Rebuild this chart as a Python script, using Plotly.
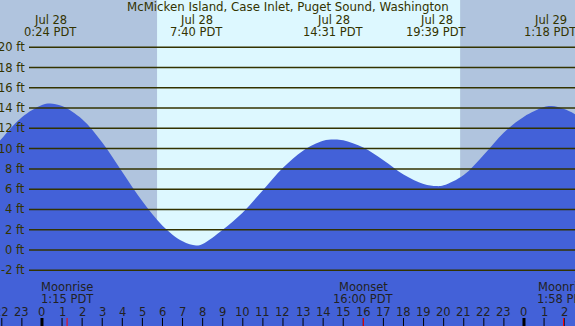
import plotly.graph_objects as go

# Tide heights (ft), hours relative to Jul 28 00:00 PDT
hours = [-2.09, -2, -1, 0, 0.4, 1, 2, 3, 4, 5, 6, 7, 7.67, 8, 9, 10, 11, 12, 13, 14, 14.52,
         15, 16, 17, 18, 19, 19.65, 20, 21, 22, 23, 24, 25, 25.38, 26, 26.54]
heights = [10.8, 11.0, 13.1, 14.3, 14.46, 14.2, 12.9, 10.6, 7.7, 4.8, 2.4, 0.85, 0.45, 0.6, 2.0, 3.7, 5.9, 8.1, 9.8, 10.78, 10.9,
           10.82, 10.1, 8.85, 7.45, 6.5, 6.3, 6.38, 7.4, 9.4, 11.6, 13.15, 14.1, 14.2, 13.9, 13.4]

extreme_hours = [0.4, 7.67, 14.52, 19.65, 25.3]
extreme_dates = ["Jul 28", "Jul 28", "Jul 28", "Jul 28", "Jul 29"]
extreme_times = ["0:24 PDT", "7:40 PDT", "14:31 PDT", "19:39 PDT", "1:18 PDT"]

moon_hours = [1.25, 16.0, 25.97]
moon_events = ["Moonrise", "Moonset", "Moonrise"]
moon_times = ["1:15 PDT", "16:00 PDT", "1:58 PDT"]

sunrise_h = 5.73
sunset_h = 20.82

ft_ticks = list(range(-2, 21, 2))
hour_ticks = list(range(-2, 27))
hour_labels = [str(h % 24) for h in hour_ticks]

title = "McMicken Island, Case Inlet, Puget Sound, Washington"

X0, X1 = -2.09, 26.54
Y0, Y1 = -7.5, 24.66

NIGHT = "#B0C4DE"
DAY = "#DDF8FF"
BLUE = "#4361D8"
INK = "#333300"
FONT = "DejaVu Sans"
FS = 11.5

fig = go.Figure()
fig.add_trace(go.Scatter(x=[X0 - 1, X1 + 1], y=[-20, -20], mode="lines",
                         line=dict(width=0), hoverinfo="skip", showlegend=False))
fig.add_trace(go.Scatter(x=hours, y=heights, mode="lines", line=dict(width=0, color=BLUE, shape="spline"),
                         fill="tonexty", fillcolor=BLUE, hoverinfo="skip", showlegend=False))

shapes = []
shapes.append(dict(type="rect", xref="x", yref="paper", x0=X0 - 1, x1=sunrise_h, y0=0, y1=1,
                   fillcolor=NIGHT, line=dict(width=0), layer="below"))
shapes.append(dict(type="rect", xref="x", yref="paper", x0=sunset_h, x1=X1 + 1, y0=0, y1=1,
                   fillcolor=NIGHT, line=dict(width=0), layer="below"))
for v in ft_ticks:
    shapes.append(dict(type="line", xref="paper", yref="y", x0=29 / 575, x1=1, y0=v, y1=v,
                       line=dict(color=INK, width=1.5), layer="above"))

tick_len = 8 / 326
for h in hour_ticks:
    w = 3 if h % 24 == 0 else 1
    shapes.append(dict(type="line", xref="x", yref="paper", x0=h, x1=h, y0=0, y1=tick_len,
                       line=dict(color="#000000", width=w), layer="above"))
for h in moon_hours:
    shapes.append(dict(type="line", xref="x", yref="paper", x0=h, x1=h, y0=0, y1=tick_len,
                       line=dict(color="#FF0000", width=1), layer="above"))

ann = []
ann.append(dict(text=title, xref="paper", yref="paper", x=0.5, y=1 - 7 / 326, showarrow=False,
                font=dict(family=FONT, size=11.8, color=INK), xanchor="center", yanchor="middle"))
for h, d, t in zip(extreme_hours, extreme_dates, extreme_times):
    ann.append(dict(text=d, xref="x", yref="paper", x=h, y=1 - 20 / 326, showarrow=False,
                    font=dict(family=FONT, size=FS, color=INK), xanchor="center", yanchor="middle"))
    ann.append(dict(text=t, xref="x", yref="paper", x=h, y=1 - 32 / 326, showarrow=False,
                    font=dict(family=FONT, size=FS, color=INK), xanchor="center", yanchor="middle"))
for v in ft_ticks:
    ann.append(dict(text=f"{v} ft", xref="paper", yref="y", x=27 / 575, y=v, showarrow=False,
                    font=dict(family=FONT, size=FS, color=INK), xanchor="right", yanchor="middle"))
for h, e, t in zip(moon_hours, moon_events, moon_times):
    ann.append(dict(text=e, xref="x", yref="paper", x=h, y=1 - 287 / 326, showarrow=False,
                    font=dict(family=FONT, size=FS, color="#222222"), xanchor="center", yanchor="middle"))
    ann.append(dict(text=t, xref="x", yref="paper", x=h, y=1 - 299 / 326, showarrow=False,
                    font=dict(family=FONT, size=FS, color="#222222"), xanchor="center", yanchor="middle"))
for h, lab in zip(hour_ticks, hour_labels):
    ann.append(dict(text=lab, xref="x", yref="paper", x=h, y=1 - 312 / 326, showarrow=False,
                    font=dict(family=FONT, size=FS, color="#222222"), xanchor="center", yanchor="middle"))

fig.update_layout(
    width=575, height=326, margin=dict(l=0, r=0, t=0, b=0),
    paper_bgcolor=DAY, plot_bgcolor=DAY,
    xaxis=dict(range=[X0, X1], visible=False, fixedrange=True),
    yaxis=dict(range=[Y0, Y1], visible=False, fixedrange=True),
    shapes=shapes, annotations=ann, showlegend=False,
)
fig.write_html("out.html", config={"displayModeBar": False},
               post_script="document.body.style.margin='0px';document.body.style.overflow='hidden';")
